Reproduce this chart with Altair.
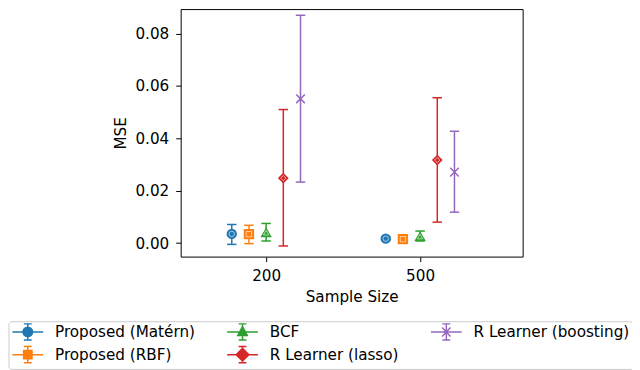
import altair as alt
import pandas as pd

# ---- data ----
methods = ["Proposed (Matérn)", "Proposed (RBF)", "BCF", "R Learner (lasso)", "R Learner (boosting)"]
colors = ["#1f77b4", "#ff7f0e", "#2ca02c", "#d62728", "#9467bd"]
sample_sizes = ["200", "500"]

mse_200 = [0.0035, 0.0034, 0.0040, 0.0248, 0.0551]
lo_200 = [-0.0005, -0.0002, 0.0008, -0.0011, 0.0233]
hi_200 = [0.0071, 0.0068, 0.0075, 0.0510, 0.0870]

mse_500 = [0.0017, 0.0015, 0.0025, 0.0317, 0.0271]
lo_500 = [0.0011, 0.0011, 0.0008, 0.0080, 0.0118]
hi_500 = [0.0023, 0.0019, 0.0046, 0.0555, 0.0427]

y_ticks = [0.0, 0.02, 0.04, 0.06, 0.08]

# ---- styling ----
FONT = "DejaVu Sans"
FS = 15.3
dodge = 0.1116
point_shapes = ["circle", "square", "triangle-up", "diamond", "M-1,-1L1,1M-1,1L1,-1"]
point_sizes = [80, 75, 105, 250, 95]
inner_sizes = [30, 28, 40, 110, 0]

# legend glyphs: errorbar-like handle (line + bar + caps + marker)
cx = 1.46
common = "M-1.12,0L4.04,0M1.46,-1.35L1.46,1.35M0.8,-1.35L2.12,-1.35M0.8,1.35L2.12,1.35"
r, k = 0.8, 0.442
circle_p = (f"M{cx+r},0C{cx+r},{k} {cx+k},{r} {cx},{r}C{cx-k},{r} {cx-r},{k} {cx-r},0"
            f"C{cx-r},{-k} {cx-k},{-r} {cx},{-r}C{cx+k},{-r} {cx+r},{-k} {cx+r},0Z")
legend_glyphs = [
    common + circle_p,
    common + "M0.76,-0.7L2.16,-0.7L2.16,0.7L0.76,0.7Z",
    common + "M1.46,-0.9L2.26,0.62L0.66,0.62Z",
    common + "M0.40,0L1.46,-1.06L2.52,0L1.46,1.06Z",
    common + "M0.76,-0.75L2.16,0.75M0.76,0.75L2.16,-0.75",
]

rows = []
for si, (m_list, l_list, h_list) in enumerate([(mse_200, lo_200, hi_200), (mse_500, lo_500, hi_500)]):
    for k_i, meth in enumerate(methods):
        rows.append({
            "method": meth,
            "x": si + (k_i - 2) * dodge,
            "mse": m_list[k_i],
            "lo": l_list[k_i],
            "hi": h_list[k_i],
        })
df = pd.DataFrame(rows)

label_expr = " : ".join([f"datum.value == {i} ? '{s}'" for i, s in enumerate(sample_sizes)]) + " : ''"

x_scale = alt.Scale(domain=[-0.555, 1.666], nice=False, zero=False)
y_scale = alt.Scale(domain=[-0.00516, 0.08937], nice=False, zero=False)
x_axis = alt.Axis(values=[0, 1], labelExpr=label_expr, title="Sample Size", grid=False,
                  domain=False, titleY=39.7, titleBaseline="middle", labelPadding=7)
y_axis = alt.Axis(values=y_ticks, format=".2f", title="MSE", grid=False, domain=False,
                  titleX=-60, titleBaseline="middle", labelPadding=7)

color_enc = alt.Color("method:N", scale=alt.Scale(domain=methods, range=colors), legend=None)
X = alt.X("x:Q", scale=x_scale, axis=x_axis)

base = alt.Chart(df)

bars = base.mark_rule(strokeWidth=1.5, opacity=1).encode(
    x=X,
    y=alt.Y("lo:Q", scale=y_scale, axis=y_axis),
    y2="hi:Q",
    color=color_enc,
)
cap_lo = base.mark_tick(orient="horizontal", size=9.5, thickness=1.5, opacity=1).encode(
    x=X, y=alt.Y("lo:Q", scale=y_scale, axis=y_axis), color=color_enc)
cap_hi = base.mark_tick(orient="horizontal", size=9.5, thickness=1.5, opacity=1).encode(
    x=X, y=alt.Y("hi:Q", scale=y_scale, axis=y_axis), color=color_enc)

pts = base.mark_point(filled=False, strokeWidth=1.5, opacity=1).encode(
    x=X,
    y=alt.Y("mse:Q", scale=y_scale, axis=y_axis),
    color=color_enc,
    fill=alt.Fill("method:N", scale=alt.Scale(domain=methods, range=colors), legend=None),
    shape=alt.Shape("method:N", scale=alt.Scale(domain=methods, range=point_shapes), legend=None),
    size=alt.Size("method:N", scale=alt.Scale(domain=methods, range=point_sizes), legend=None),
)
inner = base.transform_filter(f"datum.method != '{methods[4]}'").mark_point(
    filled=False, strokeWidth=0.8, opacity=0.75, stroke="white").encode(
    x=X,
    y=alt.Y("mse:Q", scale=y_scale, axis=y_axis),
    shape=alt.Shape("method:N", scale=alt.Scale(domain=methods, range=point_shapes), legend=None),
    size=alt.Size("method:N", scale=alt.Scale(domain=methods, range=inner_sizes), legend=None),
)

leg = alt.Legend(
    title=None, orient="none", legendX=-173.2, legendY=314, columns=3,
    columnPadding=28, rowPadding=0, padding=3, strokeColor="#cccccc",
    cornerRadius=3, fillColor="white", labelFont=FONT, labelFontSize=FS, labelColor="black",
    labelLimit=400, symbolSize=144, symbolStrokeWidth=1.5, labelOffset=28.5, symbolOpacity=1,
)
legend_layer = base.transform_filter("false").mark_point(filled=False, strokeWidth=1.5, opacity=1).encode(
    color=alt.Color("method:N", scale=alt.Scale(domain=methods, range=colors), legend=leg),
    fill=alt.Fill("method:N", scale=alt.Scale(domain=methods, range=colors), legend=leg),
    shape=alt.Shape("method:N", scale=alt.Scale(domain=methods, range=legend_glyphs), legend=leg),
)

chart = alt.layer(bars, cap_lo, cap_hi, pts, inner, legend_layer).resolve_scale(
    color="independent", fill="independent", shape="independent", size="independent"
).properties(
    width=344,
    height=249,
    autosize=alt.AutoSizeParams(type="none"),
    padding={"left": 173.7, "top": 0, "right": 110, "bottom": 113},
).configure_view(
    stroke="black", strokeWidth=1
).configure_axis(
    labelFont=FONT, labelFontSize=FS, labelColor="black",
    titleFont=FONT, titleFontSize=FS, titleColor="black", titleFontWeight="normal",
    tickColor="black", tickSize=5, tickWidth=1,
).configure_legend(
    strokeColor="#cccccc", strokeWidth=1
)

chart.save("out.html", embed_options={"renderer": "svg", "actions": False})
